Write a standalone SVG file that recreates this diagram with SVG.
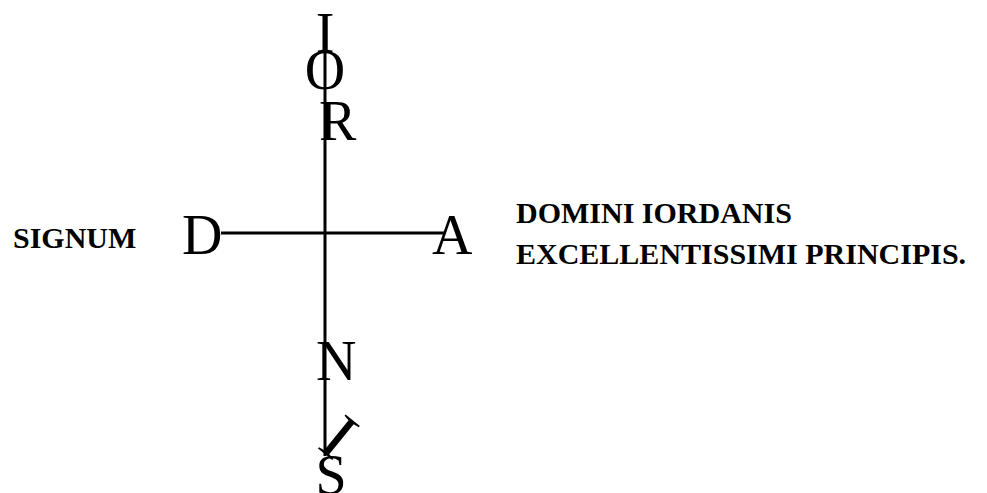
<svg xmlns="http://www.w3.org/2000/svg" width="987" height="493" viewBox="0 0 987 493">
<style>
.big{font-family:"Liberation Serif","Times New Roman",serif;font-size:56px;fill:#000}
.lbl{font-family:"Liberation Serif","Times New Roman",serif;font-size:30px;font-weight:bold;fill:#000}
.ln{stroke:#000;stroke-width:3;fill:none}
</style>
<rect width="987" height="493" fill="#fff"/>
<g id="connectors">
<line class="ln" x1="325" y1="35" x2="325" y2="456"/>
<line class="ln" x1="221" y1="233" x2="444" y2="233"/>
</g>
<g id="letter-I-top"><text class="big" x="325" y="52" text-anchor="middle">I</text></g>
<g id="letter-O"><text class="big" x="325" y="89" text-anchor="middle">O</text></g>
<g id="letter-R"><text class="big" x="319" y="140">R</text></g>
<g id="letter-D"><text class="big" x="182" y="254">D</text></g>
<g id="letter-A"><text class="big" x="432" y="254">A</text></g>
<g id="letter-N"><text class="big" x="316" y="380">N</text></g>
<g id="letter-I-slant"><text class="big" transform="translate(339,437) rotate(39) scale(1.25,1.2)" x="0" y="18.5" text-anchor="middle">I</text></g>
<g id="letter-S"><text class="big" x="331" y="494" text-anchor="middle">S</text></g>
<g id="signum"><text class="lbl" x="13" y="248">SIGNUM</text></g>
<g id="title">
<text class="lbl" x="516" y="223">DOMINI IORDANIS</text>
<text class="lbl" x="516" y="264">EXCELLENTISSIMI PRINCIPIS.</text>
</g>
</svg>
